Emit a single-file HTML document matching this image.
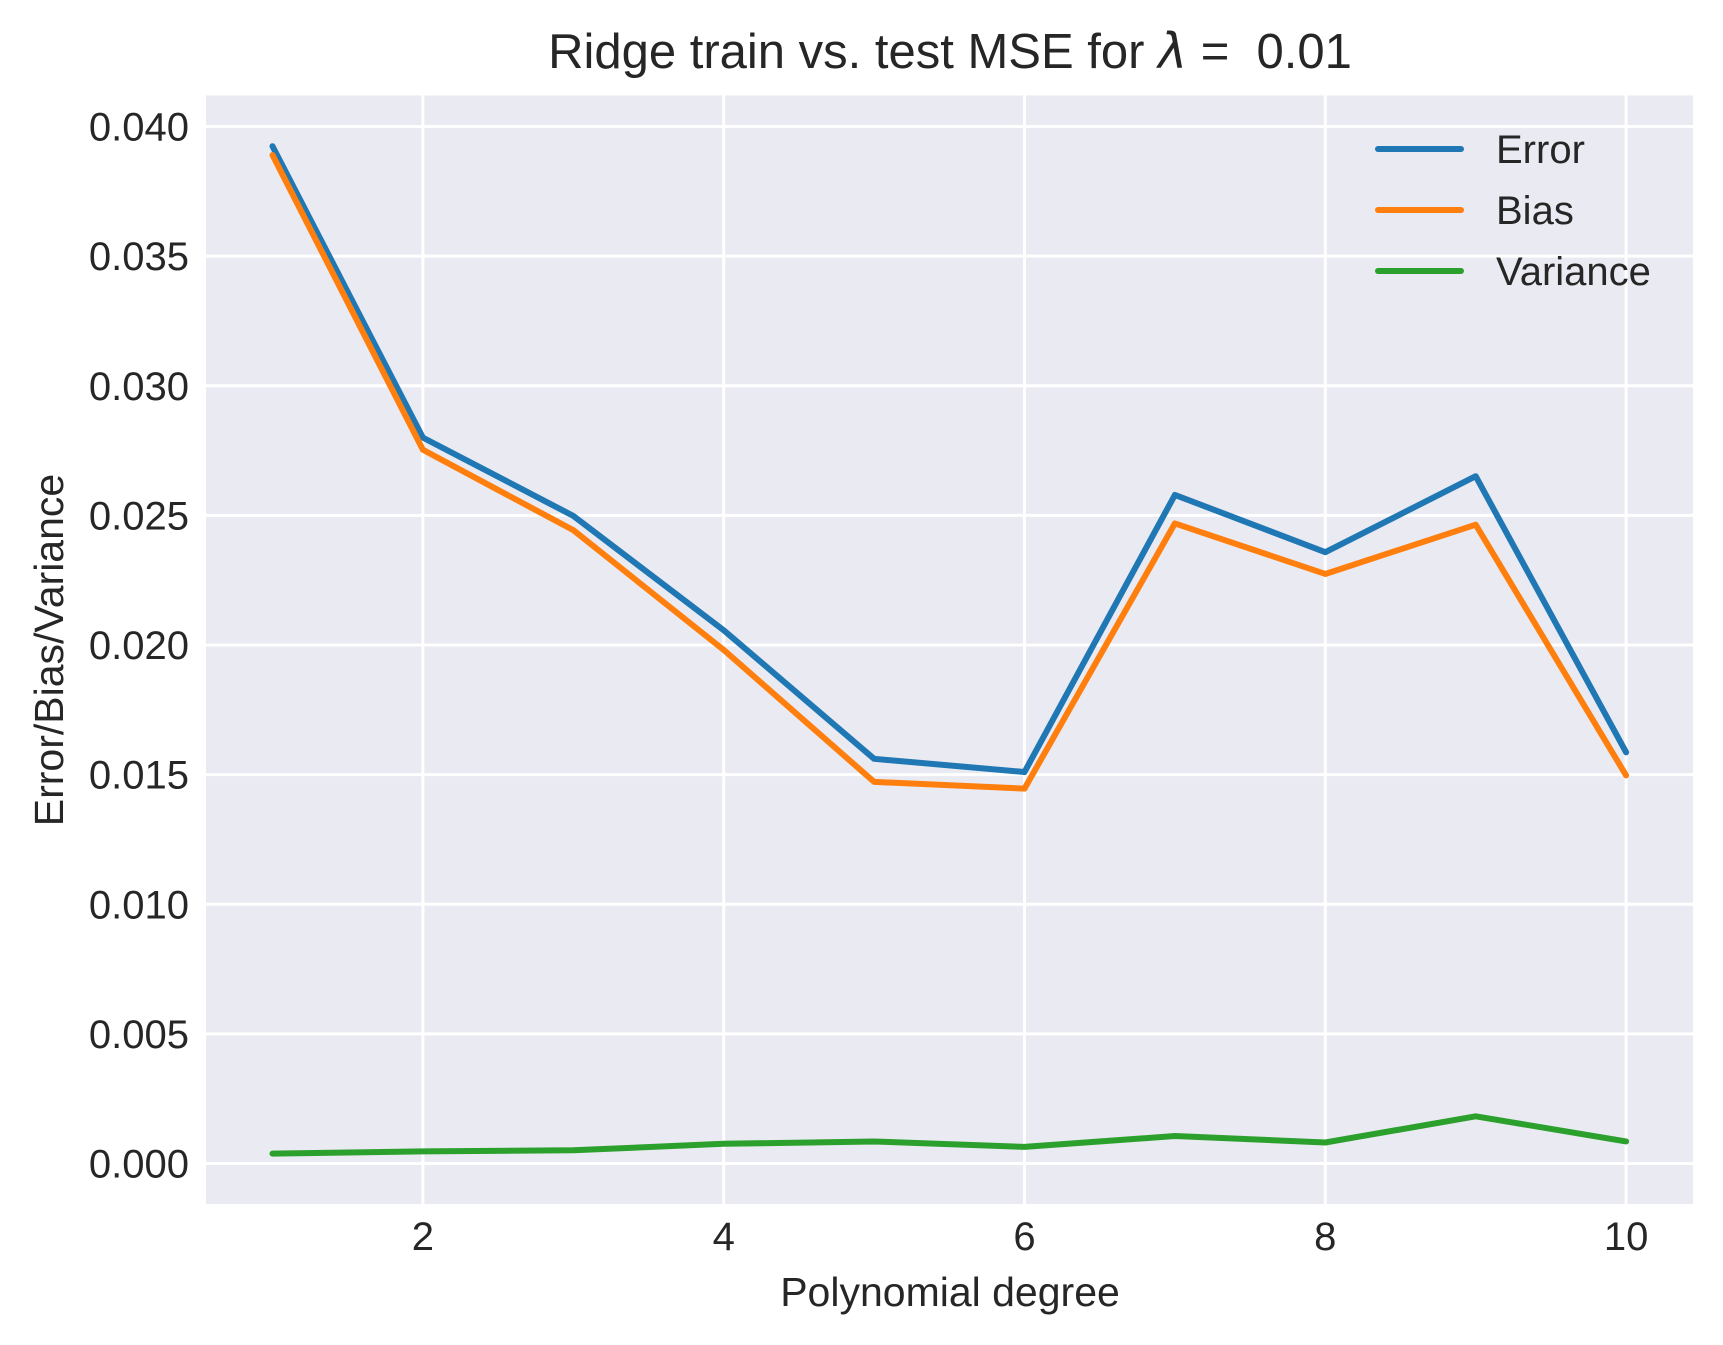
<!DOCTYPE html>
<html><head><meta charset="utf-8"><style>
html,body{margin:0;padding:0;background:#fff;}
svg{display:block;font-family:"Liberation Sans",sans-serif;}
</style></head><body>
<svg id="chart" width="1723" height="1345" viewBox="0 0 1723 1345">
<rect x="206" y="95.5" width="1487" height="1108.5" fill="#eaeaf2"/>
<g id="grid"></g>
<g id="lines"></g>
<g id="ticks" fill="#262626" font-size="40"></g>
<text x="950" y="68" text-anchor="middle" font-size="49" fill="#262626">Ridge train vs. test MSE for <tspan font-family="'DejaVu Sans',sans-serif" font-style="italic">λ</tspan> = &#160;0.01</text>
<text x="950" y="1306" text-anchor="middle" font-size="41" fill="#262626">Polynomial degree</text>
<text transform="translate(63,650) rotate(-90)" text-anchor="middle" font-size="41" fill="#262626">Error/Bias/Variance</text>
<g font-size="40" fill="#262626">
<line x1="1378" y1="149" x2="1461" y2="149" stroke="#1f77b4" stroke-width="6" stroke-linecap="round"/>
<text x="1496" y="163">Error</text>
<line x1="1378" y1="210" x2="1461" y2="210" stroke="#ff7f0e" stroke-width="6" stroke-linecap="round"/>
<text x="1496" y="224">Bias</text>
<line x1="1378" y1="271" x2="1461" y2="271" stroke="#2ca02c" stroke-width="6" stroke-linecap="round"/>
<text x="1496" y="285">Variance</text>
</g>
</svg>
<script>
const degrees=[1,2,3,4,5,6,7,8,9,10];
const errorVals=[0.03924,0.0280,0.02498,0.02057,0.01561,0.01510,0.02579,0.02358,0.02651,0.01586];
const biasVals=[0.03890,0.02753,0.02443,0.01981,0.01472,0.01446,0.02469,0.02274,0.02464,0.01497];
const varianceVals=[0.00038,0.00047,0.00051,0.00076,0.00085,0.00064,0.00106,0.00081,0.00182,0.00085];
const xTicks=[2,4,6,8,10];
const yTicks=[0,0.005,0.010,0.015,0.020,0.025,0.030,0.035,0.040];
const yTickLabels=["0.000","0.005","0.010","0.015","0.020","0.025","0.030","0.035","0.040"];

const NS="http://www.w3.org/2000/svg";
function xs(v){return 272.5+(v-1)*150.4;}
function ys(v){return 1163.5-v*(1037/0.040);}
const grid=document.getElementById('grid'),lines=document.getElementById('lines'),ticks=document.getElementById('ticks');
xTicks.forEach(t=>{
  const l=document.createElementNS(NS,'line');
  l.setAttribute('x1',xs(t));l.setAttribute('x2',xs(t));l.setAttribute('y1',95.5);l.setAttribute('y2',1204);
  l.setAttribute('stroke','#fff');l.setAttribute('stroke-width','3');
  
  
  grid.appendChild(l);
  const tx=document.createElementNS(NS,'text');
  tx.setAttribute('x',xs(t));tx.setAttribute('y',1250);tx.setAttribute('text-anchor','middle');
  tx.textContent=t;
  
  
  ticks.appendChild(tx);
});
yTicks.forEach((t,i)=>{
  const l=document.createElementNS(NS,'line');
  l.setAttribute('x1',206);l.setAttribute('x2',1693);l.setAttribute('y1',ys(t));l.setAttribute('y2',ys(t));
  l.setAttribute('stroke','#fff');l.setAttribute('stroke-width','3');
  
  
  grid.appendChild(l);
  const tx=document.createElementNS(NS,'text');
  tx.setAttribute('x',189);tx.setAttribute('y',ys(t)+14);tx.setAttribute('text-anchor','end');
  tx.textContent=yTickLabels[i];
  
  
  ticks.appendChild(tx);
});
function drawSeries(vals,color,name){
  const p=document.createElementNS(NS,'polyline');
  p.setAttribute('points',vals.map((v,i)=>xs(degrees[i])+','+ys(v)).join(' '));
  p.setAttribute('fill','none');p.setAttribute('stroke',color);p.setAttribute('stroke-width','6');
  p.setAttribute('stroke-linecap','round');p.setAttribute('stroke-linejoin','round');
  
  
  lines.appendChild(p);
}
drawSeries(errorVals,'#1f77b4','error-line');
drawSeries(biasVals,'#ff7f0e','bias-line');
drawSeries(varianceVals,'#2ca02c','variance-line');
</script>
</body></html>
